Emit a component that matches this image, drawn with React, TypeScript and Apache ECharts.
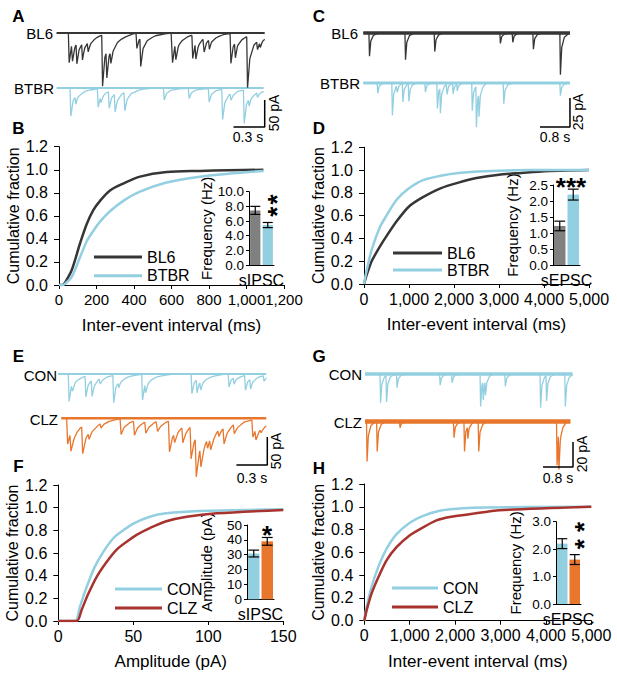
import React, { useEffect, useRef } from "react";
import * as echarts from "echarts";

const FONT = "'Liberation Sans', Arial, sans-serif";
const C_DARK = "#363636";
const C_BLUE = "#92cfe0";
const C_GRAY = "#808080";
const C_ORANGE = "#e8762c";
const C_RED = "#a8322e";

// ---------- Trace events: [time (s), amplitude (pA)] ----------
const A_BL6_EVENTS = [[0.112, 55], [0.144, 31], [0.186, 37], [0.24, 31], [0.295, 18], [0.433, 95], [0.474, 50], [0.513, 22], [0.763, 28], [0.8, 52], [1.106, 55], [1.138, 28], [1.3, 43], [1.33, 28], [1.41, 25], [1.46, 18], [1.667, 55], [1.71, 28], [1.827, 95], [1.923, 15], [1.95, 10]];
const A_BTBR_EVENTS = [[0.128, 52], [0.176, 15], [0.391, 34], [0.417, 12], [0.497, 31], [0.554, 34], [0.647, 34], [1.026, 22], [1.266, 19], [1.458, 25], [1.587, 56], [1.667, 12], [1.795, 62], [1.843, 14], [1.923, 9]];
const C_BL6_EVENTS = [[0.15, 20], [1.11, 23], [1.89, 16], [3.64, 9], [3.97, 8], [4.52, 14], [5.24, 36]];
const C_BTBR_EVENTS = [[0.37, 9], [0.76, 28], [0.89, 6], [1.04, 16], [1.2, 15], [1.64, 8], [1.96, 22], [2.04, 22], [2.22, 9], [2.38, 9], [2.49, 6], [2.89, 24], [3.0, 36], [3.07, 20], [3.73, 18], [5.24, 11]];
const E_CON_EVENTS = [[0.097, 49], [0.13, 12], [0.26, 37], [0.32, 30], [0.4, 10], [0.53, 49], [0.58, 10], [0.81, 46], [0.84, 15], [1.29, 35], [1.34, 24], [1.375, 14], [1.65, 23], [1.7, 12], [1.81, 26], [1.86, 18], [1.99, 10]];
const E_CLZ_EVENTS = [[0.081, 46], [0.113, 34], [0.227, 49], [0.29, 12], [0.405, 9], [0.6, 28], [0.73, 25], [0.84, 20], [0.955, 18], [1.07, 55], [1.12, 16], [1.2, 28], [1.28, 58], [1.33, 70], [1.375, 35], [1.44, 16], [1.47, 22], [1.55, 12], [1.6, 29], [1.7, 17], [1.88, 31], [1.91, 20], [1.96, 7]];
const G_CON_EVENTS = [[0.4, 23], [0.56, 21], [0.84, 11], [1.99, 9], [2.31, 7], [3.07, 26], [3.14, 15], [3.2, 11], [3.73, 10], [4.67, 27], [4.83, 20], [5.33, 26]];
const G_CLZ_EVENTS = [[0.04, 32], [0.31, 24], [0.92, 5], [2.36, 13], [2.64, 24], [2.73, 10], [3.02, 24], [5.11, 35], [5.16, 28]];

// kernel shapes [dt (s), fraction of peak]
const IPSC_KERNEL = [[0, 0], [0.008, 1], [0.03, 0.45], [0.07, 0.2], [0.15, 0.07], [0.3, 0]];
const IPSC_SLOW_KERNEL = [[0, 0], [0.01, 1], [0.04, 0.55], [0.1, 0.25], [0.2, 0.08], [0.35, 0]];
const EPSC_KERNEL = [[0, 0], [0.015, 1], [0.05, 0.35], [0.12, 0.1], [0.25, 0]];

// ---------- Cumulative curves ----------
const B_BL6_X = [0, 20, 32, 68, 112, 148, 183, 219, 272, 343, 432, 574, 752, 900, 1090];
const B_BL6_Y = [0, 0, 0.02, 0.13, 0.36, 0.53, 0.65, 0.73, 0.82, 0.88, 0.94, 0.98, 0.99, 0.995, 1.0];
const B_BTBR_X = [0, 20, 32, 68, 112, 148, 183, 219, 272, 343, 432, 574, 752, 930, 1090];
const B_BTBR_Y = [0, 0, 0.01, 0.07, 0.24, 0.38, 0.47, 0.55, 0.64, 0.73, 0.81, 0.89, 0.94, 0.97, 0.99];

const D_BL6_X = [0, 60, 170, 355, 500, 725, 1000, 1300, 1700, 2100, 2500, 3000, 3500, 4000, 5000];
const D_BL6_Y = [0, 0.08, 0.2, 0.33, 0.42, 0.55, 0.68, 0.76, 0.84, 0.89, 0.93, 0.96, 0.975, 0.99, 1.0];
const D_BTBR_X = [0, 60, 170, 355, 500, 725, 1000, 1300, 1700, 2100, 2700, 3700, 5000];
const D_BTBR_Y = [0, 0.12, 0.3, 0.5, 0.6, 0.74, 0.84, 0.91, 0.95, 0.975, 0.99, 1.0, 1.0];

const F_CON_X = [0, 11.1, 14.4, 18.9, 24.4, 30, 36.7, 43.3, 50, 61, 72, 94, 150];
const F_CON_Y = [0, 0, 0.126, 0.3, 0.48, 0.61, 0.73, 0.8, 0.86, 0.92, 0.95, 0.97, 0.985];
const F_CLZ_X = [0, 12.2, 15.6, 20, 25.6, 32.2, 38.9, 45.6, 52.2, 61, 72, 85.6, 105.6, 150];
const F_CLZ_Y = [0, 0, 0.1, 0.24, 0.39, 0.52, 0.63, 0.7, 0.76, 0.82, 0.88, 0.92, 0.95, 0.98];

const H_CON_X = [0, 51, 161, 307, 490, 710, 1003, 1296, 1662, 2101, 2686, 5000];
const H_CON_Y = [0, 0.12, 0.3, 0.47, 0.63, 0.76, 0.86, 0.92, 0.965, 0.985, 0.994, 1.0];
const H_CLZ_X = [0, 51, 161, 307, 490, 710, 1003, 1296, 1589, 1881, 2394, 2979, 5000];
const H_CLZ_Y = [0, 0.09, 0.24, 0.38, 0.53, 0.645, 0.75, 0.82, 0.88, 0.91, 0.94, 0.97, 1.0];

// ---------- Insets: mean and SEM ----------
const B_BAR_MEAN = [7.45, 5.45];
const B_BAR_SEM = [0.55, 0.35];
const D_BAR_MEAN = [1.22, 2.2];
const D_BAR_SEM = [0.15, 0.17];
const F_BAR_MEAN = [30.8, 39];
const F_BAR_SEM = [2.3, 2.6];
const H_BAR_MEAN = [2.2, 1.62];
const H_BAR_SEM = [0.18, 0.18];

function kernelAt(k: number[][], d: number) {
  if (d <= 0 || d >= k[k.length - 1][0]) return 0;
  for (let i = 0; i < k.length - 1; i++) {
    const [t0, v0] = k[i];
    const [t1, v1] = k[i + 1];
    if (d >= t0 && d <= t1) return v0 + ((v1 - v0) * (d - t0)) / (t1 - t0);
  }
  return 0;
}

function buildTrace(events: number[][], kernel: number[][], offset: number, t0: number, t1: number) {
  const set = new Set<number>([t0, t1]);
  events.forEach(([te]) =>
    kernel.forEach(([dt]) => {
      const t = +(te + dt).toFixed(4);
      if (t >= t0 && t <= t1) set.add(t);
    })
  );
  const times = Array.from(set).sort((a, b) => a - b);
  return times.map((t) => {
    let v = 0;
    events.forEach(([te, amp]) => {
      v += amp * kernelAt(kernel, t - te);
    });
    return [t, offset - v];
  });
}

const zip = (xs: number[], ys: number[]) => xs.map((x, i) => [x, ys[i]]);

export default function App() {
  const ref = useRef<HTMLDivElement>(null);
  useEffect(() => {
    if (!ref.current) return;
    const chart = echarts.init(ref.current, undefined, { renderer: "svg" });

    const grids = [
      { left: 56.7, top: 22.2, width: 208, height: 118.8 }, // A
      { left: 363.3, top: 21.4, width: 206.3, height: 127.6 }, // C
      { left: 58.3, top: 362.8, width: 209, height: 123.2 }, // E
      { left: 365, top: 361.5, width: 208, height: 112.5 }, // G
      { left: 59, top: 146.7, width: 225, height: 138.3 }, // B
      { left: 249, top: 191.7, width: 25, height: 73.3 }, // B inset
      { left: 364, top: 147.3, width: 225, height: 136.7 }, // D
      { left: 553, top: 185, width: 27, height: 80 }, // D inset
      { left: 58.3, top: 485, width: 225, height: 136 }, // F
      { left: 247, top: 525, width: 27, height: 74.3 }, // F inset
      { left: 364.3, top: 484, width: 227, height: 136.7 }, // H
      { left: 556, top: 521.7, width: 25, height: 82.3 }, // H inset
    ];

    const hiddenX = (g: number, max: number) => ({ gridIndex: g, type: "value", min: 0, max, show: false });
    const hiddenY = (g: number, min: number, max: number) => ({ gridIndex: g, type: "value", min, max, show: false });

    const axisLine = { show: true, lineStyle: { color: "#000", width: 1 } };
    const mainX = (g: number, max: number, interval: number, name: string, size = 16) => ({
      gridIndex: g, type: "value", min: 0, max, interval,
      axisLine, axisTick: { show: true, length: 4, lineStyle: { color: "#000" } },
      axisLabel: {
        fontSize: size, color: "#000", margin: 7, fontFamily: FONT, hideOverlap: false,
        showMaxLabel: true, showMinLabel: true,
        formatter: (v: number) => v.toLocaleString("en-US"),
      },
      splitLine: { show: false },
      name, nameLocation: "middle", nameGap: 32,
      nameTextStyle: { fontSize: 17, color: "#000", fontFamily: FONT },
    });
    const mainY = (g: number) => ({
      gridIndex: g, type: "value", min: 0, max: 1.2, interval: 0.2,
      axisLine, axisTick: { show: true, length: 5, lineStyle: { color: "#000" } },
      axisLabel: { fontSize: 16, color: "#000", margin: 11, fontFamily: FONT, formatter: (v: number) => v.toFixed(1) },
      splitLine: { show: false },
      name: "Cumulative fraction", nameLocation: "middle", nameGap: 38,
      nameTextStyle: { fontSize: 16, color: "#000", fontFamily: FONT },
    });
    const insetX = (g: number, name: string) => ({
      gridIndex: g, type: "category", data: ["g1", "g2"],
      axisLine, axisTick: { show: false }, axisLabel: { show: false },
      name, nameLocation: "middle", nameGap: 8,
      nameTextStyle: { fontSize: 16, lineHeight: 14, color: "#000", fontFamily: FONT, verticalAlign: "top" },
    });
    const insetY = (g: number, max: number, interval: number, decimals: number, name: string) => ({
      gridIndex: g, type: "value", min: 0, max, interval,
      axisLine, axisTick: { show: true, length: 3, lineStyle: { color: "#000" } },
      axisLabel: { fontSize: 13.5, lineHeight: 11, color: "#000", margin: 5, fontFamily: FONT, formatter: (v: number) => v.toFixed(decimals) },
      splitLine: { show: false },
      name, nameLocation: "middle", nameGap: 33,
      nameTextStyle: { fontSize: 15, color: "#000", fontFamily: FONT },
    });

    const xAxis = [
      hiddenX(0, 2.0), hiddenX(1, 5.5), hiddenX(2, 2.03), hiddenX(3, 5.55),
      mainX(4, 1200, 200, "Inter-event interval (ms)", 15), insetX(5, "sIPSC"),
      mainX(6, 5000, 1000, "Inter-event interval (ms)"), insetX(7, "sEPSC"),
      mainX(8, 150, 50, "Amplitude (pA)"), insetX(9, "sIPSC"),
      mainX(10, 5000, 1000, "Inter-event interval (ms)"), insetX(11, "sEPSC"),
    ];
    const yAxis = [
      hiddenY(0, -200, 20), hiddenY(1, -100, 10), hiddenY(2, -200, 20), hiddenY(3, -80, 10),
      mainY(4), insetY(5, 10, 2, 1, "Frequency (Hz)"),
      mainY(6), insetY(7, 2.5, 0.5, 1, "Frequency (Hz)"),
      mainY(8), insetY(9, 50, 10, 0, "Amplitude (pA)"),
      mainY(10), insetY(11, 3, 1, 1, "Frequency (Hz)"),
    ];

    const series: any[] = [];
    const traceSeries = (name: string, g: number, events: number[][], kernel: number[][], offset: number, t0: number, t1: number, color: string, noise: number) => {
      series.push({
        name: name + "-noise", type: "line", xAxisIndex: g, yAxisIndex: g, symbol: "none", silent: true,
        data: [[t0, offset], [t1, offset]], lineStyle: { color, width: noise }, z: 1,
      });
      series.push({
        name, type: "line", xAxisIndex: g, yAxisIndex: g, symbol: "none", silent: true,
        data: buildTrace(events, kernel, offset, t0, t1), lineStyle: { color, width: 1.3 }, z: 2,
      });
    };
    traceSeries("A-BL6", 0, A_BL6_EVENTS, IPSC_KERNEL, 0, 0, 2.0, C_DARK, 2);
    traceSeries("A-BTBR", 0, A_BTBR_EVENTS, IPSC_KERNEL, -102, 0, 1.99, C_BLUE, 2);
    traceSeries("C-BL6", 1, C_BL6_EVENTS, EPSC_KERNEL, 0, 0, 5.51, C_DARK, 3.5);
    traceSeries("C-BTBR", 1, C_BTBR_EVENTS, EPSC_KERNEL, -43, 0, 5.51, C_BLUE, 3);
    traceSeries("E-CON", 2, E_CON_EVENTS, IPSC_KERNEL, 0, 0, 2.02, C_BLUE, 2);
    traceSeries("E-CLZ", 2, E_CLZ_EVENTS, IPSC_SLOW_KERNEL, -79, 0.03, 2.02, C_ORANGE, 2.5);
    traceSeries("G-CON", 3, G_CON_EVENTS, EPSC_KERNEL, 0, 0, 5.54, C_BLUE, 3.5);
    traceSeries("G-CLZ", 3, G_CLZ_EVENTS, EPSC_KERNEL, -38, 0, 5.48, C_ORANGE, 4.5);

    // scale bars: [grid, corner time, corner pA, time length, amplitude length]
    const bars: [number, number, number, number, number][] = [
      [0, 2.0, -174, 0.3, 50],
      [1, 5.51, -81, 0.8, 25],
      [2, 2.03, -162.5, 0.3, 50],
      [3, 5.55, -74.4, 0.8, 20],
    ];
    bars.forEach(([g, t, y, dt, dy]) => {
      series.push({
        type: "line", xAxisIndex: g, yAxisIndex: g, symbol: "none", silent: true,
        data: [[t - dt, y], [t, y], [t, y + dy]], lineStyle: { color: "#000", width: 1.5 }, z: 3,
      });
    });

    const cum = (name: string, g: number, data: number[][], color: string, smooth: number) => ({
      name, type: "line", xAxisIndex: g, yAxisIndex: g, symbol: "none", smooth,
      data, lineStyle: { color, width: 2.5 }, itemStyle: { color }, z: 2,
    });
    series.push(cum("BL6", 4, zip(B_BL6_X, B_BL6_Y), C_DARK, 0.3));
    series.push(cum("BTBR", 4, zip(B_BTBR_X, B_BTBR_Y), C_BLUE, 0.3));
    series.push(cum("BL6", 6, zip(D_BL6_X, D_BL6_Y), C_DARK, 0.2));
    series.push(cum("BTBR", 6, zip(D_BTBR_X, D_BTBR_Y), C_BLUE, 0.3));
    series.push(cum("CON", 8, zip(F_CON_X, F_CON_Y), C_BLUE, 0.3));
    series.push(cum("CLZ", 8, zip(F_CLZ_X, F_CLZ_Y), C_RED, 0.3));
    series.push(cum("CON", 10, zip(H_CON_X, H_CON_Y), C_BLUE, 0.3));
    series.push(cum("CLZ", 10, zip(H_CLZ_X, H_CLZ_Y), C_RED, 0.2));

    const errRender = (params: any, api: any) => {
      const xi = api.value(0);
      const lo = api.coord([xi, api.value(1)]);
      const hi = api.coord([xi, api.value(2)]);
      const half = api.size([1, 0])[0] * 0.4;
      const style = { stroke: "#000", lineWidth: 1.2, fill: "none" };
      return {
        type: "group",
        children: [
          { type: "line", shape: { x1: lo[0], y1: lo[1], x2: hi[0], y2: hi[1] }, style },
          { type: "line", shape: { x1: lo[0] - half, y1: lo[1], x2: lo[0] + half, y2: lo[1] }, style },
          { type: "line", shape: { x1: hi[0] - half, y1: hi[1], x2: hi[0] + half, y2: hi[1] }, style },
        ],
      };
    };
    const inset = (g: number, means: number[], sems: number[], colors: string[], barWidth: number) => {
      series.push({
        type: "bar", xAxisIndex: g, yAxisIndex: g, silent: true, barWidth,
        data: means.map((m, i) => ({ value: m, itemStyle: { color: colors[i] } })), z: 2,
      });
      series.push({
        type: "custom", xAxisIndex: g, yAxisIndex: g, silent: true, renderItem: errRender,
        encode: { x: 0, y: [1, 2] },
        data: means.map((m, i) => [i, m - sems[i], m + sems[i]]), z: 4,
      });
    };
    inset(5, B_BAR_MEAN, B_BAR_SEM, [C_GRAY, C_BLUE], 10.3);
    inset(7, D_BAR_MEAN, D_BAR_SEM, [C_GRAY, C_BLUE], 11.5);
    inset(9, F_BAR_MEAN, F_BAR_SEM, [C_BLUE, C_ORANGE], 11.5);
    inset(11, H_BAR_MEAN, H_BAR_SEM, [C_BLUE, C_ORANGE], 10.5);

    const legend = (left: number, top: number, gap: number, w: number, names: string[]) => ({
      left, top, orient: "vertical", itemWidth: w, itemHeight: 3, itemGap: gap, icon: "rect",
      selectedMode: false, data: names,
      textStyle: { fontSize: 16, color: "#000", fontFamily: FONT, lineHeight: 14, padding: [0, 0, 0, 0] },
    });

    const txt = (x: number, y: number, text: string, opts: any = {}) => ({
      type: "text", x, y, rotation: opts.rotation || 0, silent: true,
      style: {
        text, fill: "#000", fontFamily: FONT, fontSize: opts.size || 15,
        fontWeight: opts.bold ? "bold" : "normal",
        align: opts.align || "center", verticalAlign: "middle",
      },
    });
    const graphic = [
      txt(18.5, 16, "A", { bold: true, size: 17 }),
      txt(18.5, 128, "B", { bold: true, size: 17 }),
      txt(319, 16, "C", { bold: true, size: 17 }),
      txt(319, 128, "D", { bold: true, size: 17 }),
      txt(18.5, 356, "E", { bold: true, size: 17 }),
      txt(18.5, 466, "F", { bold: true, size: 17 }),
      txt(319, 356, "G", { bold: true, size: 17 }),
      txt(319, 468, "H", { bold: true, size: 17 }),
      txt(53, 33, "BL6", { align: "right" }),
      txt(54, 88, "BTBR", { align: "right" }),
      txt(358, 33, "BL6", { align: "right" }),
      txt(360, 83, "BTBR", { align: "right" }),
      txt(57, 375, "CON", { align: "right" }),
      txt(58, 419, "CLZ", { align: "right" }),
      txt(362, 374, "CON", { align: "right" }),
      txt(362, 422, "CLZ", { align: "right" }),
      txt(248, 137, "0.3 s", { size: 14 }),
      txt(274, 113, "50 pA", { size: 14, rotation: Math.PI / 2 }),
      txt(555, 137, "0.8 s", { size: 14 }),
      txt(578, 112, "25 pA", { size: 14, rotation: Math.PI / 2 }),
      txt(252, 478, "0.3 s", { size: 14 }),
      txt(276, 451, "50 pA", { size: 14, rotation: Math.PI / 2 }),
      txt(558, 478, "0.8 s", { size: 14 }),
      txt(582, 454, "20 pA", { size: 14, rotation: Math.PI / 2 }),
      txt(276.5, 205.5, "*\u200A*", { size: 26, bold: true, rotation: Math.PI / 2 }),
      txt(571, 187, "***", { size: 26, bold: true }),
      txt(267, 535, "*", { size: 26, bold: true }),
      txt(583.5, 535.5, "* *", { size: 26, bold: true, rotation: Math.PI / 2 }),
    ];

    chart.setOption({
      animation: false,
      backgroundColor: "#fff",
      textStyle: { fontFamily: FONT },
      grid: grids,
      xAxis,
      yAxis,
      series,
      legend: [
        legend(89, 244, 2.7, 48, ["BL6", "BTBR"]),
        legend(388, 240, 1, 49, ["BL6", "BTBR"]),
        legend(110, 576, 3, 47, ["CON", "CLZ"]),
        legend(387, 575, 3, 46, ["CON", "CLZ"]),
      ],
      graphic,
    });
    return () => chart.dispose();
  }, []);
  return <div ref={ref} style={{ position: "fixed", left: 0, top: 0, width: 617, height: 678, background: "#fff" }} />;
}
